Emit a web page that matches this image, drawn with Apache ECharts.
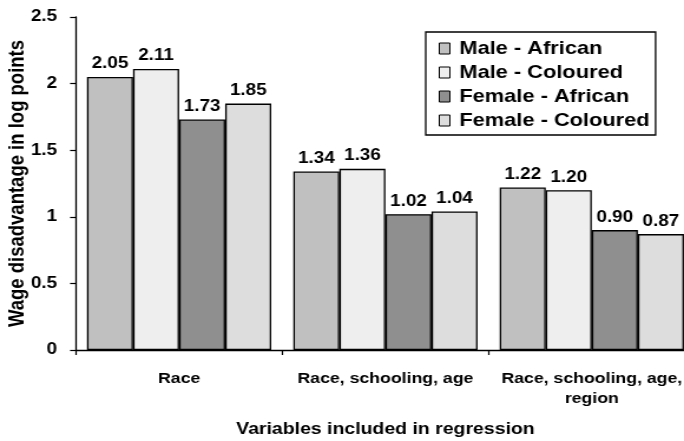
<!DOCTYPE html>
<html>
<head>
<meta charset="utf-8">
<script src="https://cdn.jsdelivr.net/npm/echarts@6/dist/echarts.min.js"></script>
<style>
  html, body { margin:0; padding:0; background:#fff; }
  #wrap { width:684px; height:441px; overflow:hidden; position:relative; }
  #c { width:580px; height:441px; transform:scaleX(1.17931); transform-origin:0 0; }
</style>
</head>
<body>
<div id="wrap"><div id="c"></div></div>
<script>
const categories = ["Race", "Race, schooling, age", "Race, schooling, age,\nregion"];
const seriesNames = ["Male - African", "Male - Coloured", "Female - African", "Female - Coloured"];
const maleAfrican = [2.05, 1.34, 1.22];
const maleColoured = [2.11, 1.36, 1.20];
const femaleAfrican = [1.73, 1.02, 0.90];
const femaleColoured = [1.85, 1.04, 0.87];
const yTicks = { min: 0, max: 2.5, interval: 0.5 };
const colors = ["#c0c0c0", "#eeeeee", "#8f8f8f", "#dddddd"];

const FONT = "'Liberation Sans', Arial, sans-serif";
const values = [maleAfrican, maleColoured, femaleAfrican, femaleColoured];

const chart = echarts.init(document.getElementById('c'), null, { renderer: 'canvas' });
chart.setOption({
  animation: false,
  backgroundColor: '#fff',
  textStyle: { fontFamily: FONT },
  legend: {
    orient: 'vertical',
    left: 361, top: 32,
    padding: [7, 5, 5, 11],
    itemGap: 5,
    itemWidth: 9, itemHeight: 11,
    icon: 'rect',
    backgroundColor: '#fff',
    borderColor: '#000',
    borderWidth: 1.3,
    borderRadius: 0,
    itemStyle: { borderColor: '#000', borderWidth: 1 },
    textStyle: { fontFamily: FONT, fontWeight: 'bold', fontSize: 18.5, color: '#000', padding: [0, 0, 0, 3] },
    data: seriesNames
  },
  grid: { left: 64.4, top: 17, bottom: 91, right: -9.3, containLabel: false, outerBoundsMode: 'none' },
  xAxis: {
    type: 'category',
    data: categories,
    boundaryGap: true,
    name: 'Variables included in regression',
    nameLocation: 'middle',
    nameGap: 71,
    nameMoveOverlap: false,
    nameTextStyle: { fontFamily: FONT, fontWeight: 'bold', fontSize: 16.5, color: '#000', verticalAlign: 'top' },
    axisLine: { show: true, lineStyle: { color: '#000', width: 1.3 } },
    axisTick: { show: true, inside: false, length: 5, alignWithLabel: false, lineStyle: { color: '#000', width: 1.2 } },
    axisLabel: { interval: 0, margin: 19, fontFamily: FONT, fontWeight: 'bold', fontSize: 15, lineHeight: 20, color: '#000', verticalAlign: 'top' },
    splitLine: { show: false }
  },
  yAxis: {
    type: 'value',
    min: yTicks.min, max: yTicks.max, interval: yTicks.interval,
    name: 'Wage disadvantage in log points',
    nameLocation: 'middle',
    nameRotate: 90,
    nameGap: 40,
    nameMoveOverlap: false,
    nameTextStyle: { fontFamily: FONT, fontWeight: 'bold', fontSize: 18.5, color: '#000' },
    axisLine: { show: true, lineStyle: { color: '#000', width: 1.3 } },
    axisTick: { show: true, inside: false, length: 5, lineStyle: { color: '#000', width: 1.2 } },
    axisLabel: { margin: 16, fontFamily: FONT, fontWeight: 'bold', fontSize: 16, color: '#000' },
    splitLine: { show: false }
  },
  series: seriesNames.map((name, i) => ({
    name,
    type: 'bar',
    data: values[i],
    barGap: '0%',
    barCategoryGap: '10.7%',
    itemStyle: { color: colors[i], borderColor: '#000', borderWidth: 1.3 },
    label: {
      show: true, position: 'top', distance: 5,
      fontFamily: FONT, fontWeight: 'bold', fontSize: 16, color: '#000',
      formatter: p => Number(p.value).toFixed(2)
    }
  }))
});
</script>
</body>
</html>
